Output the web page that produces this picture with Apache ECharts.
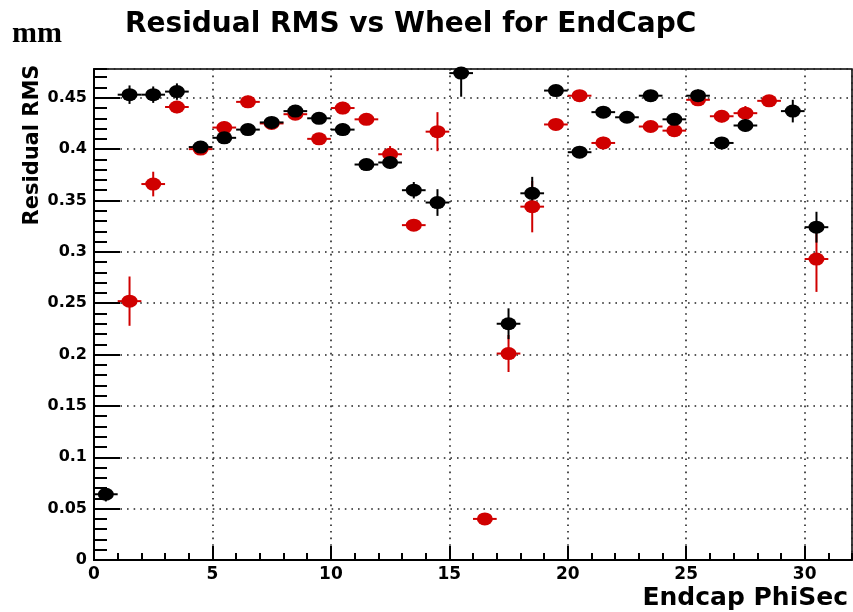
<!DOCTYPE html>
<html>
<head>
<meta charset="utf-8">
<title>Residual RMS vs Wheel for EndCapC</title>
<script src="https://cdn.jsdelivr.net/npm/echarts/dist/echarts.min.js"></script>
<style>
  html, body { margin: 0; padding: 0; background: #fff; }
  #chart { width: 853px; height: 612px; }
</style>
</head>
<body>
<div id="chart"></div>
<script>
// bin centres (Endcap PhiSec)
const phiSec = [0.5, 1.5, 2.5, 3.5, 4.5, 5.5, 6.5, 7.5, 8.5, 9.5, 10.5, 11.5, 12.5, 13.5, 14.5, 15.5,
  16.5, 17.5, 18.5, 19.5, 20.5, 21.5, 22.5, 23.5, 24.5, 25.5, 26.5, 27.5, 28.5, 29.5, 30.5]

// black histogram
const blackRms = [0.064, 0.453, 0.453, 0.456, 0.402, 0.411, 0.419, 0.426, 0.437, 0.430, 0.419, 0.385, 0.387, 0.360, 0.348, 0.474,
  null, 0.230, 0.357, 0.457, 0.397, 0.436, 0.431, 0.452, 0.429, 0.452, 0.406, 0.423, null, 0.437, 0.324]
const blackErr = [0.007, 0.009, 0.008, 0.008, 0.005, 0.006, 0.005, 0.005, 0.006, 0.005, 0.006, 0.004, 0.006, 0.008, 0.013, 0.023,
  null, 0.015, 0.016, 0.005, 0.004, 0.005, 0.004, 0.005, 0.006, 0.006, 0.005, 0.006, null, 0.011, 0.015]

// red histogram
const redRms = [null, 0.252, 0.366, 0.441, 0.400, 0.421, 0.446, 0.425, 0.434, 0.410, 0.440, 0.429, 0.395, 0.326, 0.417, null,
  0.040, 0.201, 0.344, 0.424, 0.452, 0.406, null, 0.422, 0.418, 0.448, 0.432, 0.435, 0.447, null, 0.293]
const redErr = [null, 0.024, 0.012, 0.006, 0.005, 0.006, 0.006, 0.004, 0.004, 0.005, 0.006, 0.005, 0.008, 0.005, 0.019, null,
  0.005, 0.018, 0.025, 0.005, 0.005, 0.006, null, 0.005, 0.006, 0.006, 0.006, 0.007, 0.005, null, 0.032]

const binHalfWidth = 0.5
const xMax = 32
const yMax = 0.478

const RED = '#d00000'
const BLACK = '#000000'
const FONT = 'DejaVu Sans'
const marker = 'path://M0,5 A5,5 0 1,1 10,5 A5,5 0 1,1 0,5 Z'

// [x, y, err] with empty bins dropped
const toPoints = (vals, errs) => phiSec
  .map((x, i) => [x, vals[i], errs[i]])
  .filter(p => p[1] !== null)

const errorBars = (name, color, points) => ({
  name: name + ' err',
  type: 'custom',
  clip: true,
  data: points,
  renderItem: (params, api) => {
    const x = api.value(0), y = api.value(1), e = api.value(2)
    const lo = api.coord([x, y - e])
    const hi = api.coord([x, y + e])
    const l = api.coord([x - binHalfWidth, y])
    const r = api.coord([x + binHalfWidth, y])
    const style = { stroke: color, lineWidth: 2 }
    return {
      type: 'group',
      children: [
        { type: 'line', shape: { x1: lo[0], y1: lo[1], x2: hi[0], y2: hi[1] }, style },
        { type: 'line', shape: { x1: l[0], y1: l[1], x2: r[0], y2: r[1] }, style },
      ]
    }
  }
})

const markers = (name, color, points) => ({
  name,
  type: 'scatter',
  symbol: marker,
  symbolSize: [16, 13],
  itemStyle: { color, opacity: 1 },
  data: points.map(p => [p[0], p[1]]),
})

const blackPts = toPoints(blackRms, blackErr)
const redPts = toPoints(redRms, redErr)

const gridLine = { show: true, lineStyle: { color: '#222', width: 1.6, type: [1.6, 5] } }
const tickLabel = { fontFamily: FONT, fontWeight: 'bold', color: '#000' }

const option = {
  backgroundColor: '#fff',
  animation: false,
  grid: {
    left: 94, right: 1, top: 69, bottom: 52,
    show: true, borderColor: '#000', borderWidth: 1.5,
  },
  xAxis: [{
    type: 'value', min: 0, max: xMax, interval: 5, position: 'bottom',
    axisLine: { show: true, onZero: false, lineStyle: { color: '#000', width: 2 } },
    axisTick: { show: true, inside: true, length: 14, lineStyle: { color: '#000', width: 2 } },
    axisLabel: { ...tickLabel, fontSize: 17, margin: 6, showMaxLabel: false },
    splitLine: gridLine,
  }, {
    // minor ticks, one per sector
    type: 'value', min: 0, max: xMax, interval: 1, position: 'bottom',
    axisLine: { show: false },
    axisTick: { show: true, inside: true, length: 7, lineStyle: { color: '#000', width: 2 } },
    axisLabel: { show: false },
    splitLine: { show: false },
  }],
  yAxis: [{
    type: 'value', min: 0, max: yMax, interval: 0.05, position: 'left',
    axisLine: { show: true, onZero: false, lineStyle: { color: '#000', width: 2 } },
    axisTick: { show: true, inside: true, length: 26, lineStyle: { color: '#000', width: 2 } },
    axisLabel: { ...tickLabel, fontSize: 16, margin: 7, showMaxLabel: false, formatter: v => String(+v.toFixed(2)) },
    splitLine: gridLine,
  }, {
    type: 'value', min: 0, max: yMax, interval: 0.01, position: 'left',
    axisLine: { show: false },
    axisTick: { show: true, inside: true, length: 13, lineStyle: { color: '#000', width: 2 } },
    axisLabel: { show: false },
    splitLine: { show: false },
  }],
  graphic: [{
    type: 'text', left: 125, top: 11,
    style: { text: 'Residual RMS vs Wheel for EndCapC', font: 'bold 28px "DejaVu Sans"', fill: '#000' }
  }, {
    type: 'text', left: 12, top: 19,
    style: { text: 'mm', font: 'bold 30px "Liberation Serif"', fill: '#000' }
  }, {
    type: 'text', x: 33, y: 145, rotation: Math.PI / 2,
    style: { text: 'Residual RMS', font: 'bold 21px "DejaVu Sans"', fill: '#000', align: 'center', verticalAlign: 'middle' }
  }, {
    type: 'text', x: 848, y: 598,
    style: { text: 'Endcap PhiSec', font: 'bold 25px "DejaVu Sans"', fill: '#000', align: 'right', verticalAlign: 'middle' }
  }],
  series: [
    errorBars('red', RED, redPts),
    markers('red', RED, redPts),
    errorBars('black', BLACK, blackPts),
    markers('black', BLACK, blackPts),
  ]
}

const myChart = echarts.init(document.getElementById('chart'))
myChart.setOption(option)
window.onresize = myChart.resize
</script>
</body>
</html>
